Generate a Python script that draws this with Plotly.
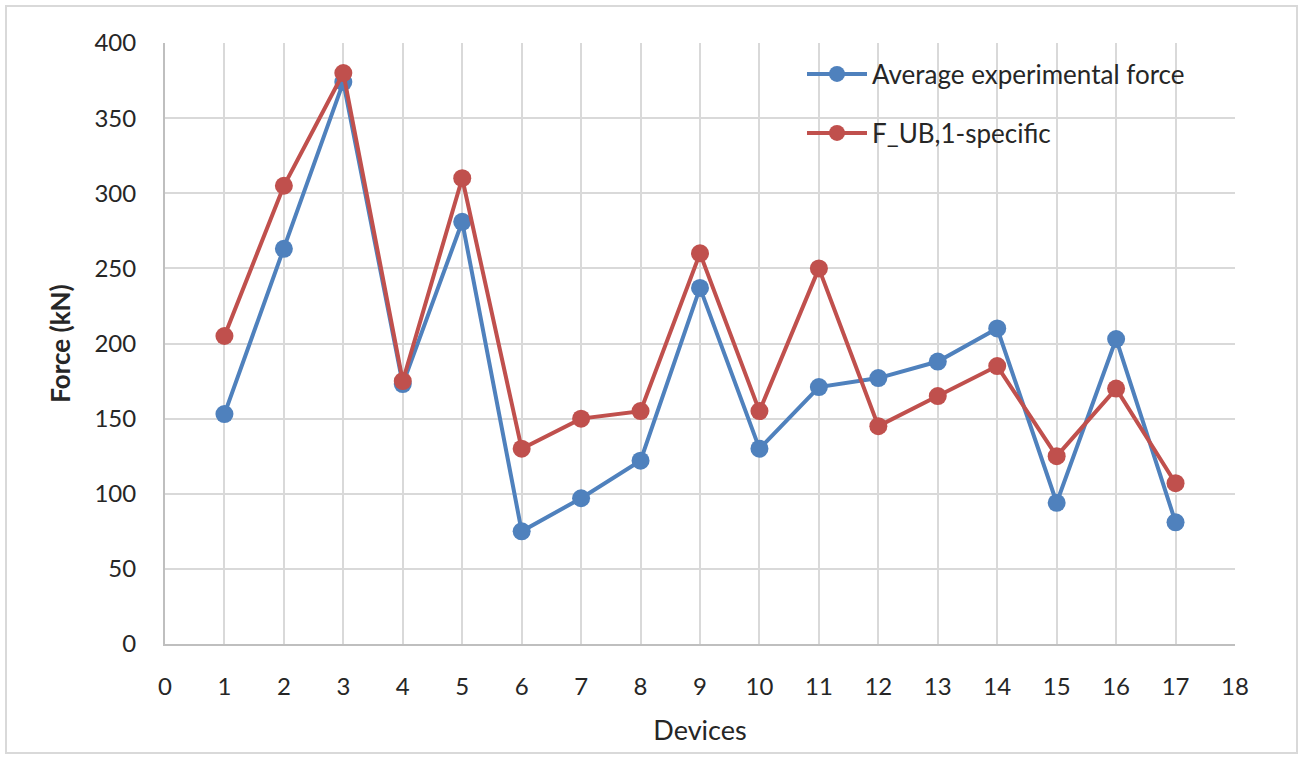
import plotly.graph_objects as go

devices = list(range(1, 18))
avg_force = [153, 263, 374, 173, 281, 75, 97, 122, 237, 130, 171, 177, 188, 210, 94, 203, 81]
fub_force = [205, 305, 380, 175, 310, 130, 150, 155, 260, 155, 250, 145, 165, 185, 125, 170, 107]
x_ticks = list(range(0, 19))
y_ticks = list(range(0, 401, 50))

BLUE = "#4F81BD"
RED = "#C0504D"
FONT = "Lato"

fig = go.Figure()
fig.add_trace(go.Scatter(x=devices, y=avg_force, mode="lines+markers",
                         name="Average experimental force", showlegend=True,
                         line=dict(color=BLUE, width=4),
                         marker=dict(color=BLUE, size=18), legend="legend"))
fig.add_trace(go.Scatter(x=devices, y=fub_force, mode="lines+markers",
                         name="F_UB,1-specific", showlegend=True,
                         line=dict(color=RED, width=4),
                         marker=dict(color=RED, size=18), legend="legend2"))

W, H = 1304, 758
L, R, T, B = 165, 69, 43, 114
pw, ph = W - L - R, H - T - B

def px_x(p):
    return (p - L) / pw

def px_y(p):
    return (H - B - p) / ph

fig.update_layout(
    width=W, height=H,
    margin=dict(l=L, r=R, t=T, b=B),
    paper_bgcolor="white", plot_bgcolor="white",
    showlegend=True,
    font=dict(family=FONT, size=24, color="#262626"),
    legend=dict(x=px_x(802), y=px_y(74), xanchor="left", yanchor="middle",
                bgcolor="rgba(0,0,0,0)", font=dict(size=26, color="#262626"),
                itemwidth=60, visible=True),
    legend2=dict(x=px_x(802), y=px_y(133), xanchor="left", yanchor="middle",
                 bgcolor="rgba(0,0,0,0)", font=dict(size=26, color="#262626"),
                 itemwidth=60, visible=True),
    xaxis=dict(range=[0, 18], tickvals=x_ticks, ticktext=[str(v) for v in x_ticks],
               showgrid=True, gridcolor="#d9d9d9", gridwidth=1.5,
               showline=True, linecolor="#bfbfbf", linewidth=2,
               zeroline=False, ticks="", ticklabelstandoff=20,
               title=dict(text="Devices", font=dict(size=27, color="#262626"), standoff=22)),
    yaxis=dict(range=[0, 400], tickvals=y_ticks,
               showgrid=True, gridcolor="#d9d9d9", gridwidth=1.5,
               showline=True, linecolor="#bfbfbf", linewidth=2,
               zeroline=False, ticks="", ticklabelstandoff=22,
               title=dict(text="<b>Force (kN)</b>", font=dict(size=26, color="#262626"), standoff=16)),
    shapes=[dict(type="rect", xref="paper", yref="paper",
                 x0=px_x(6), x1=px_x(1297), y0=px_y(753), y1=px_y(6),
                 line=dict(color="#d9d9d9", width=2), fillcolor="rgba(0,0,0,0)",
                 layer="below")],
)

fig.write_html("out.html")
